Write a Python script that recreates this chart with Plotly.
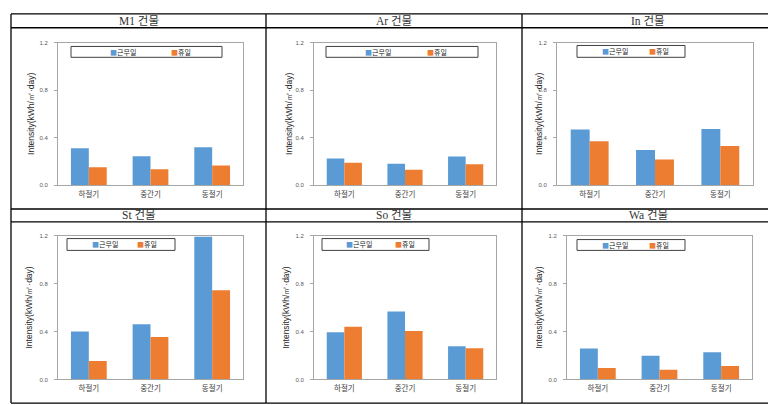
import plotly.graph_objects as go

W, H = 776, 405

categories = ["하절기", "중간기", "동절기"]
series_names = ["근무일", "휴일"]
panel_titles = ["M1 건물", "Ar 건물", "In 건물", "St 건물", "So 건물", "Wa 건물"]
workday = [
    [0.312, 0.245, 0.320],
    [0.226, 0.182, 0.243],
    [0.469, 0.298, 0.474],
    [0.400, 0.460, 1.190],
    [0.393, 0.566, 0.277],
    [0.258, 0.198, 0.228],
]
holiday = [
    [0.152, 0.135, 0.166],
    [0.190, 0.132, 0.177],
    [0.370, 0.218, 0.331],
    [0.155, 0.355, 0.745],
    [0.440, 0.404, 0.261],
    [0.096, 0.082, 0.113],
]
y_ticks = [0.0, 0.4, 0.8, 1.2]
y_title = "Intensity(kWh/㎡·day)"
caption = "그림 4.33 주요건물별 원단위"

colors = ["#5B9BD5", "#ED7D31"]

# pixel layout (x0, x1, y0, y1) for each plot area
plot_px = [
    (50, 235, 32, 177), (306, 488, 32, 177), (549, 745, 32, 177),
    (50, 235, 228, 374), (306, 488, 228, 374), (559, 744, 228, 374),
]
legend_box_px = [
    (63, 214, 36, 47), (318, 470, 36, 47), (569, 677, 35, 47),
    (59, 167, 231, 243), (314, 421, 231, 243), (569, 677, 232, 243),
]
legend_item_px = [(100, 161), (355, 417), (592, 639), (82, 127), (336, 385), (592, 639)]
ytitle_px = [23, 281, 531, 21, 278, 531]

def px(x):
    return x / W

def py(y):
    return 1 - y / H

fig = go.Figure()
layout = dict(
    width=W, height=H, margin=dict(l=0, r=0, t=0, b=0),
    paper_bgcolor="white", plot_bgcolor="white",
    showlegend=False, bargap=0.42, bargroupgap=0,
    font=dict(family="Liberation Sans, Noto Sans CJK KR, sans-serif"),
)
shapes = []
annotations = []

for i in range(6):
    n = "" if i == 0 else str(i + 1)
    xa, ya = "x" + n, "y" + n
    for vals, nm, c in ((workday[i], series_names[0], colors[0]), (holiday[i], series_names[1], colors[1])):
        fig.add_trace(go.Bar(x=categories, y=vals, name=nm, marker=dict(color=c, line=dict(width=0)),
                             xaxis=xa, yaxis=ya))
    x0, x1, y0, y1 = plot_px[i]
    layout["xaxis" + n] = dict(
        domain=[px(x0), px(x1)], anchor=ya, showline=True, mirror=True, linecolor="#A6A6A6", linewidth=1,
        ticks="", showgrid=False, zeroline=False, fixedrange=True, ticklabelstandoff=2,
        tickfont=dict(size=7.5, color="#404040", family="Noto Sans CJK KR"),
    )
    layout["yaxis" + n] = dict(
        domain=[py(y1), py(y0)], anchor=xa, range=[0, 1.2], tickvals=y_ticks, tickformat=".1f",
        showline=True, mirror=True, linecolor="#A6A6A6", linewidth=1, ticks="outside", ticklen=3,
        tickcolor="#A6A6A6", showgrid=False, zeroline=False, fixedrange=True,
        tickfont=dict(size=6, color="#595959"), ticklabelstandoff=5,
    )
    # y-axis title
    annotations.append(dict(
        x=px(ytitle_px[i]), y=py((y0 + y1) / 2), xref="paper", yref="paper", text=y_title,
        textangle=-90, showarrow=False, xanchor="center", yanchor="middle",
        font=dict(size=8.5, color="#262626", family="Liberation Sans"),
    ))
    # legend box
    lx0, lx1, ly0, ly1 = legend_box_px[i]
    shapes.append(dict(type="rect", xref="paper", yref="paper", x0=px(lx0), x1=px(lx1), y0=py(ly1), y1=py(ly0),
                       line=dict(color="#404040", width=1), fillcolor="white", layer="above"))
    for k in range(2):
        annotations.append(dict(
            x=px(legend_item_px[i][k]), y=py((ly0 + ly1) / 2), xref="paper", yref="paper",
            text=f"<span style='color:{colors[k]}'>■</span>{series_names[k]}",
            showarrow=False, xanchor="left", yanchor="middle",
            font=dict(size=7, color="#262626", family="Noto Sans CJK KR"),
        ))

# table grid
cols = [3, 258, 514, 766]
rows = [3, 17, 201, 214, 398]
line = dict(color="black", width=1.3)
for y in rows:
    shapes.append(dict(type="line", xref="paper", yref="paper", x0=px(cols[0]), x1=px(cols[-1]),
                       y0=py(y), y1=py(y), line=line))
for x in cols:
    shapes.append(dict(type="line", xref="paper", yref="paper", x0=px(x), x1=px(x),
                       y0=py(rows[0]), y1=py(rows[-1]), line=line))

title_centers_y = [10, 10, 10, 207.5, 207.5, 207.5]
for i in range(6):
    c = i % 3
    annotations.append(dict(
        x=px((cols[c] + cols[c + 1]) / 2), y=py(title_centers_y[i]), xref="paper", yref="paper",
        text=panel_titles[i], showarrow=False, xanchor="center", yanchor="middle",
        font=dict(size=11.5, color="#333333", family="Liberation Serif, Noto Sans CJK KR, serif",
                  weight="normal"),
    ))

annotations.append(dict(
    x=px(390), y=py(405), xref="paper", yref="paper", text=caption, showarrow=False,
    xanchor="center", yanchor="middle", font=dict(size=10, color="#444444", family="Noto Sans CJK KR"),
))

layout["shapes"] = shapes
layout["annotations"] = annotations
fig.update_layout(**layout)
fig.write_html("out.html")
